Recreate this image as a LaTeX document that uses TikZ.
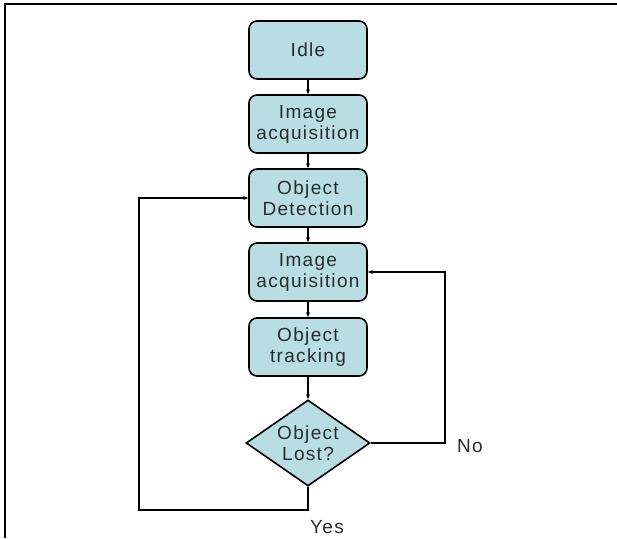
\documentclass[tikz,border=0pt]{standalone}
\usepackage{fontspec}
\setmainfont{Liberation Sans}
\newfontfamily\diagfont[LetterSpace=7]{Liberation Sans}
\usetikzlibrary{shapes.geometric,arrows.meta}
\definecolor{boxfill}{RGB}{184,221,226}
\definecolor{inkgrey}{RGB}{40,44,46}

\begin{document}
\begin{tikzpicture}[x=1pt,y=-1pt,
    every node/.style={text=inkgrey,font=\diagfont\fontsize{19}{21}\selectfont},
    stepbox/.style={draw=black,line width=1.6pt,fill=boxfill,rounded corners=8pt,
        minimum width=118pt,minimum height=58pt,align=center,inner sep=0pt},
    decide/.style={draw=black,line width=1.6pt,fill=boxfill,diamond,aspect=1.45,
        minimum width=124pt,minimum height=86pt,align=center,inner sep=0pt},
    flow/.style={line width=1.6pt,-{Stealth[length=5pt,width=4pt]}}]
        \useasboundingbox (0,0) rectangle (617,538);
        \draw[line width=1.2pt] (5,538) -- (5,4) -- (617,4);
        \node[stepbox] (idle) at (308,50) {Idle};
        \node[stepbox] (acqA) at (308,124) {Image\\acquisition};
        \node[stepbox] (detect) at (308,198) {Object\\Detection};
        \node[stepbox] (acqB) at (308,272) {Image\\acquisition};
        \node[stepbox] (track) at (308,347) {Object\\tracking};
        \node[decide] (lost) at (308,443) {Object\\Lost?};
        \draw[flow] (idle) -- (acqA);
        \draw[flow] (acqA) -- (detect);
        \draw[flow] (detect) -- (acqB);
        \draw[flow] (acqB) -- (track);
        \draw[flow] (track) -- (lost);
        \draw[flow] (lost.south) |- (139,510) |- (detect.west);
        \draw[flow] (lost.east) -| (445,272) -- (acqB.east);
        \node (no) at (470,446) {No};
        \node (yes) at (327,527) {Yes};
\end{tikzpicture}
\end{document}
